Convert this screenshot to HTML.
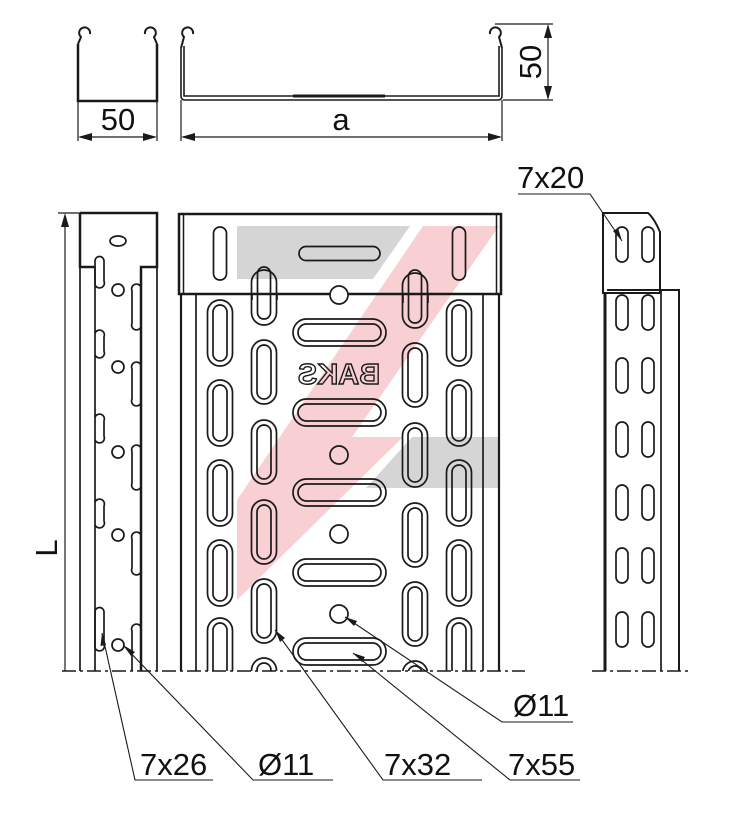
<!DOCTYPE html>
<html><head><meta charset="utf-8"><style>
html,body{margin:0;padding:0;background:#fff;}
svg{display:block;}
text{font-family:"Liberation Sans",Arial,sans-serif;fill:#111;}
</style></head><body>
<svg width="736" height="821" viewBox="0 0 736 821" xmlns="http://www.w3.org/2000/svg">
<defs>
<clipPath id="body"><rect x="170" y="200" width="340" height="471"/></clipPath>
<clipPath id="lv"><rect x="60" y="200" width="120" height="471"/></clipPath>
</defs>
<g fill="none" stroke="#1a1a1a" stroke-width="2">
<path d="M78,44 L78,101 L157,101 L157,44" stroke-width="2.5"/>
<path d="M78,44 L81,37 A5.5,5.5 0 1 1 90,34"/>
<path d="M157,44 L154,37 A5.5,5.5 0 1 0 145,34"/>
<path d="M181,48 L181,96 Q181,100 185,100 L498,100 Q502,100 502,96 L502,48" stroke-width="1.6"/>
<path d="M184,46 L184,96 L499,96 L499,46" stroke-width="1.6"/>
<path d="M181,48 L184,37 A5.5,5.5 0 1 1 193,34"/>
<path d="M502,48 L499,37 A5.5,5.5 0 1 0 490,34"/>
<line x1="293" y1="96" x2="385" y2="96" stroke-width="3"/>
</g>
<g stroke="#1a1a1a" stroke-width="1.2" fill="none">
<line x1="78" y1="101" x2="78" y2="141"/><line x1="157" y1="101" x2="157" y2="141"/>
<line x1="80" y1="137" x2="155" y2="137"/>
<line x1="181" y1="100" x2="181" y2="141"/><line x1="502" y1="100" x2="502" y2="141"/>
<line x1="183" y1="137" x2="500" y2="137"/>
<line x1="495" y1="24" x2="553" y2="24"/><line x1="503" y1="100" x2="553" y2="100"/>
<line x1="548" y1="26" x2="548" y2="98"/>
</g>
<g fill="#1a1a1a">
<polygon points="78,137 92,133 92,141"/><polygon points="157,137 143,133 143,141"/>
<polygon points="181,137 195,133 195,141"/><polygon points="502,137 488,133 488,141"/>
<polygon points="548,24 544,38 552,38"/><polygon points="548,100 544,86 552,86"/>
</g>
<text x="118" y="130" font-size="31" text-anchor="middle">50</text>
<text x="341" y="130" font-size="31" text-anchor="middle">a</text>
<text transform="translate(541,62) rotate(-90)" font-size="31" text-anchor="middle">50</text>

<polygon points="237,226 410,226 373,279 237,279" fill="#d5d5d5"/>
<polygon points="412,437 499,437 499,488 366,488" fill="#d5d5d5"/>
<polygon points="423,226 499,226 352,437 403,437 237,600 237,500" fill="#f5bfc3" opacity="0.75"/>

<g fill="none" stroke="#1a1a1a" stroke-width="1.7" clip-path="url(#body)">
<line x1="181" y1="294" x2="181" y2="671" stroke-width="2.2"/>
<line x1="196" y1="294" x2="196" y2="671"/>
<line x1="483" y1="294" x2="483" y2="671"/>
<line x1="499" y1="294" x2="499" y2="671" stroke-width="2.2"/>
<g id="colA">
<rect x="207.5" y="300" width="25" height="66" rx="12.5"/><rect x="213" y="305" width="14" height="56" rx="7"/>
<rect x="207.5" y="380" width="25" height="66" rx="12.5"/><rect x="213" y="385" width="14" height="56" rx="7"/>
<rect x="207.5" y="460" width="25" height="66" rx="12.5"/><rect x="213" y="465" width="14" height="56" rx="7"/>
<rect x="207.5" y="540" width="25" height="66" rx="12.5"/><rect x="213" y="545" width="14" height="56" rx="7"/>
<rect x="207.5" y="618" width="25" height="66" rx="12.5"/><rect x="213" y="623" width="14" height="56" rx="7"/>
</g>
<use href="#colA" transform="translate(239,0)"/>
<g id="colB">
<rect x="251.5" y="270" width="25" height="55" rx="12.5"/>
<rect x="251.5" y="340" width="25" height="64" rx="12.5"/><rect x="257" y="345" width="14" height="54" rx="7"/>
<rect x="251.5" y="420" width="25" height="64" rx="12.5"/><rect x="257" y="425" width="14" height="54" rx="7"/>
<rect x="251.5" y="500" width="25" height="64" rx="12.5"/><rect x="257" y="505" width="14" height="54" rx="7"/>
<rect x="251.5" y="579" width="25" height="64" rx="12.5"/><rect x="257" y="584" width="14" height="54" rx="7"/>
<rect x="251.5" y="658" width="25" height="64" rx="12.5"/><rect x="257" y="663" width="14" height="54" rx="7"/>
</g>
<use href="#colB" transform="translate(151,3)"/>
<g id="hs">
<rect x="293" y="319" width="93" height="27" rx="13.5"/><rect x="298" y="324" width="83" height="17" rx="8.5"/>
</g>
<use href="#hs" transform="translate(0,80)"/>
<use href="#hs" transform="translate(0,160)"/>
<use href="#hs" transform="translate(0,240)"/>
<use href="#hs" transform="translate(0,319)"/>
<circle cx="339" cy="455" r="9"/><circle cx="339" cy="534" r="9"/><circle cx="339" cy="614" r="9"/>
</g>
<text transform="translate(339,384) scale(-1,1)" font-size="29" font-weight="bold" text-anchor="middle" stroke="#1a1a1a" stroke-width="1.4" style="fill:none">BAKS</text>

<g fill="none" stroke="#1a1a1a">
<rect x="179" y="214" width="322" height="80" stroke-width="2.5"/>
<line x1="183.5" y1="214" x2="183.5" y2="294" stroke-width="1.5"/>
<line x1="496.5" y1="214" x2="496.5" y2="294" stroke-width="1.5"/>
<g stroke-width="1.7">
<rect x="213.5" y="227" width="13" height="53" rx="6.5"/>
<rect x="452.5" y="227" width="13" height="53" rx="6.5"/>
<rect x="299" y="246.5" width="81" height="14" rx="7"/>
<rect x="257.5" y="267" width="13" height="52" rx="6.5"/>
<rect x="408.5" y="270" width="13" height="53" rx="6.5"/>
<line x1="252" y1="294" x2="252" y2="300"/><line x1="277" y1="294" x2="277" y2="300"/>
<line x1="403" y1="294" x2="403" y2="303"/><line x1="428" y1="294" x2="428" y2="303"/>
</g>
<circle cx="339" cy="295" r="9" fill="#fff" stroke-width="1.7"/>
</g>

<g fill="none" stroke="#1a1a1a" stroke-width="1.7">
<path d="M80,213 L157,213 L157,267 L141,267 L141,671" stroke-width="2.5"/>
<path d="M80,213 L80,267 L95,267" stroke-width="2.5"/>
<line x1="80" y1="267" x2="80" y2="671" stroke-width="1.7"/>
<line x1="95" y1="267" x2="95" y2="671"/>
<line x1="157" y1="267" x2="157" y2="671"/>
<ellipse cx="118" cy="241" rx="8" ry="5"/>
<circle cx="118" cy="290" r="6"/><circle cx="118" cy="367" r="6"/><circle cx="118" cy="452" r="6"/><circle cx="118" cy="535" r="6"/><circle cx="118" cy="645" r="6"/>
<g clip-path="url(#lv)">
<path d="M95,285 L95,261 A4.5,4.5 0 0 1 104,261 L104,281 A4.5,4.5 0 0 1 95,285"/>
<path d="M95,333 A4.5,4.5 0 0 1 104,337 L104,351 A4.5,4.5 0 0 1 95,355"/>
<path d="M95,417 A4.5,4.5 0 0 1 104,421 L104,436 A4.5,4.5 0 0 1 95,440"/>
<path d="M95,502 A4.5,4.5 0 0 1 104,506 L104,521 A4.5,4.5 0 0 1 95,525"/>
<path d="M95,648 L95,612 A4.5,4.5 0 0 1 104,612 L104,644 A4.5,4.5 0 0 1 95,648"/>
<path d="M141,287 A4.5,4.5 0 0 0 132,291 L132,323 A4.5,4.5 0 0 0 141,327"/>
<path d="M141,365 A4.5,4.5 0 0 0 132,369 L132,399 A4.5,4.5 0 0 0 141,403"/>
<path d="M141,448 A4.5,4.5 0 0 0 132,452 L132,483 A4.5,4.5 0 0 0 141,487"/>
<path d="M141,535 A4.5,4.5 0 0 0 132,539 L132,568 A4.5,4.5 0 0 0 141,572"/>
<path d="M141,627 A4.5,4.5 0 0 0 132,631 L132,680"/>
</g>
</g>
<g stroke="#1a1a1a" stroke-width="1.2">
<line x1="58" y1="213" x2="80" y2="213"/>
<line x1="65" y1="226" x2="65" y2="671"/>
</g>
<polygon points="65,213 61,227 69,227" fill="#1a1a1a"/>
<text transform="translate(57,548) rotate(-90)" font-size="31" text-anchor="middle">L</text>

<g fill="none" stroke="#1a1a1a" stroke-width="1.7">
<path d="M603,293 L603,213 L648,213 Q654,218 660,232 L660,293 Z" stroke-width="2"/>
<line x1="605" y1="293" x2="605" y2="671" stroke-width="3"/>
<path d="M607,290 L679,290 L679,671" stroke-width="2"/>
<line x1="661" y1="290" x2="661" y2="671"/>
<g id="rs">
<rect x="616" y="227" width="12" height="35" rx="6"/><rect x="642" y="227" width="12" height="35" rx="6"/>
</g>
<use href="#rs" transform="translate(0,68)"/>
<use href="#rs" transform="translate(0,131)"/>
<use href="#rs" transform="translate(0,195)"/>
<use href="#rs" transform="translate(0,258)"/>
<use href="#rs" transform="translate(0,321)"/>
<use href="#rs" transform="translate(0,385)"/>
</g>

<g stroke="#1a1a1a" stroke-width="1.6" stroke-dasharray="14,4,3,4">
<line x1="62" y1="671" x2="525" y2="671"/>
<line x1="592" y1="671" x2="692" y2="671"/>
</g>

<g stroke="#1a1a1a" stroke-width="1.1" fill="none">
<polyline points="213,780 135,780 102,633"/>
<polyline points="333,780 253,780 123,645"/>
<polyline points="482,780 383,780 275,630"/>
<polyline points="580,780 510,780 353,653"/>
<polyline points="573,722 502,722 345,617"/>
<polyline points="518,194 590,194 622,241"/>
</g>
<g fill="#1a1a1a">
<polygon points="102,633 100.5,646 106,645"/>
<polygon points="123,645 131,656 135,652"/>
<polygon points="275,630 280,642 285,638"/>
<polygon points="353,653 362,662 365,657"/>
<polygon points="345,617 354,626 357,621"/>
<polygon points="622,241 613,231 618,228"/>
</g>
<g font-size="31">
<text x="140" y="775">7x26</text>
<text x="258" y="775">Ø11</text>
<text x="384" y="775">7x32</text>
<text x="508" y="775">7x55</text>
<text x="513" y="716">Ø11</text>
<text x="517" y="188">7x20</text>
</g>
</svg>
</body></html>
